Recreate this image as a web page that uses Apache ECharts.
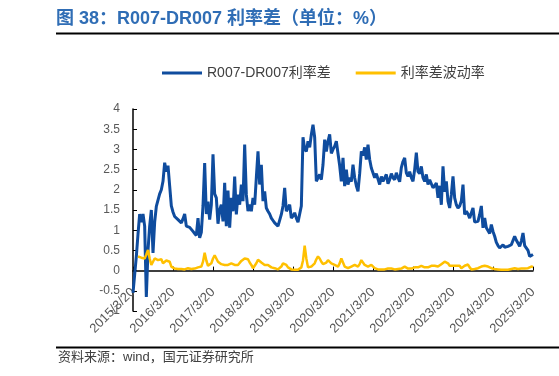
<!DOCTYPE html>
<html>
<head>
<meta charset="utf-8">
<script src="https://cdn.jsdelivr.net/npm/echarts@6/dist/echarts.min.js"></script>
<style>
  html, body { margin: 0; padding: 0; background: #fff; }
  #chart { width: 559px; height: 376px; }
</style>
</head>
<body>
<div id="chart"></div>
<script>
'use strict';

// ---- palette ----
const C = { spread: '#0f4c9e', vol: '#ffc000', axis: '#000', text: '#595959', title: '#2f6db5' };
const FONT = 'Arial, "Liberation Sans", "Noto Sans CJK SC", sans-serif';

// ---- data: half-monthly samples, 2015/3/20 .. 2025/3/20 ----
const dates = [];
for (let i = 0; i <= 240; i++) {
  const half = i % 2, mi = 2 + Math.floor(i / 2) + half;
  dates.push((2015 + Math.floor(mi / 12)) + '/' + (mi % 12 + 1) + '/' + (half ? 5 : 20));
}

// R007-DR007 spread (%)
const spread = [
  -0.55, -0.1, 0.35, 0.9, 1.4, 1.2, 1.4, 1.1, -0.65, 0.5, 1.1, 1.5,
  0.44, 1.2, 1.59, 1.63, 1.9, 2.0, 2.21, 2.67, 2.45, 2.6, 2.1, 1.6,
  1.45, 1.34, 1.3, 1.26, 1.22, 1.18, 1.28, 1.4, 1.1, 1.1, 1.07, 1.02,
  0.97, 0.92, 0.87, 1.3, 0.81, 0.95, 1.6, 2.66, 1.4, 1.71, 1.26, 1.63,
  2.88, 1.9, 1.8, 1.16, 1.5, 1.63, 1.22, 2.17, 1.1, 1.98, 1.06, 1.8,
  1.47, 2.33, 1.39, 1.88, 1.63, 2.13, 1.72, 3.12, 1.88, 1.47, 1.63, 1.47,
  1.8, 1.63, 2.3, 2.95, 2.13, 2.62, 1.72, 1.96, 1.55, 1.47, 1.4, 1.3,
  1.24, 1.18, 1.14, 1.1, 1.06, 1.39, 1.6, 2.05, 1.47, 1.55, 1.63, 1.3,
  1.35, 1.43, 1.3, 1.2, 1.18, 1.6, 3.3, 3.0, 2.95, 3.2, 3.05, 3.37,
  3.61, 3.3, 2.21, 2.17, 2.38, 2.25, 2.62, 3.24, 2.95, 3.2, 3.37, 2.9,
  3.0, 3.08, 3.2, 2.9, 2.6, 2.21, 2.79, 2.09, 2.5, 2.13, 2.3, 2.2,
  2.62, 2.3, 2.1, 1.96, 2.4, 2.95, 2.85, 3.05, 2.75, 3.12, 2.75, 2.54,
  2.58, 2.3, 2.4, 2.4, 2.13, 2.33, 2.21, 2.2, 2.38, 2.15, 2.25, 2.4,
  2.3, 2.25, 2.42, 2.3, 2.2, 2.55, 2.7, 2.79, 2.42, 2.33, 2.45, 2.3,
  2.21, 2.5, 2.92, 2.45, 2.4, 2.58, 2.3, 2.21, 2.38, 2.13, 2.25, 2.15,
  2.05, 2.1, 2.17, 1.8, 2.1, 1.63, 2.58, 1.95, 2.21, 1.72, 1.55, 1.88,
  2.33, 1.8, 1.63, 1.55, 1.6, 1.72, 2.13, 1.39, 1.47, 1.4, 1.3, 1.34,
  1.55, 1.2, 1.18, 1.22, 1.39, 1.6, 1.06, 1.3, 1.06, 1.06, 0.92, 1.14,
  0.97, 0.85, 0.7, 0.62, 0.56, 0.52, 0.64, 0.58, 0.56, 0.6, 0.58, 0.64,
  0.62, 0.85, 0.75, 0.68, 0.6, 0.73, 0.93, 0.62, 0.58, 0.5, 0.35, 0.38, 0.4
];

// spread volatility
const volatility = [
  null, null, null, 0.35, 0.38, 0.32, 0.28, 0.3, 0.4, 0.51, 0.3, 0.14,
  0.22, 0.3, 0.28, 0.26, 0.3, 0.28, 0.18, 0.14, 0.25, 0.28, 0.22, 0.1,
  0.06, 0.05, 0.04, 0.04, 0.03, 0.04, 0.05, 0.03, 0.04, 0.06, 0.05, 0.04,
  0.03, 0.05, 0.06, 0.08, 0.06, 0.1, 0.22, 0.44, 0.25, 0.12, 0.1, 0.18,
  0.3, 0.38, 0.3, 0.22, 0.18, 0.16, 0.14, 0.14, 0.12, 0.14, 0.16, 0.18,
  0.15, 0.14, 0.16, 0.14, 0.18, 0.24, 0.26, 0.3, 0.26, 0.28, 0.2, 0.14,
  0.06, 0.08, 0.18, 0.27, 0.24, 0.2, 0.16, 0.14, 0.12, 0.14, 0.1, 0.08,
  0.06, 0.06, 0.04, 0.03, 0.06, 0.1, 0.18, 0.22, 0.14, 0.08, 0.05, 0.03,
  0.03, 0.02, 0.02, 0.02, 0.03, 0.08, 0.25, 0.62, 0.3, 0.08, 0.06, 0.1,
  0.12, 0.18, 0.28, 0.35, 0.3, 0.22, 0.16, 0.14, 0.2, 0.26, 0.22, 0.18,
  0.16, 0.14, 0.12, 0.1, 0.18, 0.3, 0.2, 0.1, 0.08, 0.06, 0.08, 0.1,
  0.12, 0.14, 0.12, 0.1, 0.16, 0.26, 0.22, 0.14, 0.12, 0.1, 0.12, 0.14,
  0.1, 0.06, 0.04, 0.03, 0.03, 0.03, 0.04, 0.03, 0.03, 0.05, 0.06, 0.05,
  0.04, 0.03, 0.03, 0.04, 0.03, 0.05, 0.08, 0.1, 0.07, 0.05, 0.06, 0.05,
  0.06, 0.08, 0.1, 0.08, 0.1, 0.12, 0.1, 0.08, 0.06, 0.08, 0.1, 0.12,
  0.14, 0.12, 0.1, 0.1, 0.12, 0.16, 0.2, 0.22, 0.23, 0.18, 0.12, 0.1,
  0.12, 0.14, 0.12, 0.1, 0.12, 0.06, 0.08, 0.12, 0.14, 0.15, 0.08, 0.03,
  0.03, 0.04, 0.06, 0.06, 0.08, 0.1, 0.1, 0.12, 0.1, 0.1, 0.08, 0.06,
  0.05, 0.04, 0.03, 0.03, 0.02, 0.02, 0.02, 0.02, 0.02, 0.02, 0.03, 0.04,
  0.06, 0.06, 0.05, 0.04, 0.04, 0.05, 0.06, 0.05, 0.04, 0.06, 0.08, 0.1, 0.09
];

const seriesNames = ['R007-DR007利率差', '利率差波动率'];
const titleText = '图 38：R007-DR007 利率差（单位：%）';
const sourceText = '资料来源：wind，国元证券研究所';

const chart = echarts.init(document.getElementById('chart'), null, { renderer: 'canvas' });
chart.setOption({
  animation: false,
  textStyle: { fontFamily: FONT },
  graphic: [
    { type: 'text', left: 56, top: 10, style: { text: titleText, fill: C.title, font: 'bold 18px ' + FONT } },
    { type: 'line', shape: { x1: 56, y1: 33.5, x2: 559, y2: 33.5 }, style: { stroke: '#000', lineWidth: 2 } },
    { type: 'line', shape: { x1: 56, y1: 347.5, x2: 559, y2: 347.5 }, style: { stroke: '#000', lineWidth: 2 } },
    { type: 'text', left: 58, top: 351, style: { text: sourceText, fill: '#404040', font: '13px ' + FONT } },
  ],
  legend: {
    data: seriesNames, left: 157, top: 61, icon: 'rect', itemWidth: 40, itemHeight: 3, itemGap: 25,
    textStyle: { color: '#404040', fontSize: 14 },
  },
  grid: { left: 133, right: 26, top: 109, bottom: 65, containLabel: false },
  xAxis: {
    type: 'category', data: dates, boundaryGap: false,
    axisLine: { onZero: true, lineStyle: { color: C.axis, width: 1.5 } },
    axisTick: { inside: true, length: 4, interval: 23, lineStyle: { color: C.axis } },
    axisLabel: { interval: 23, rotate: 45, margin: -21, color: C.text, fontSize: 13 },
    splitLine: { show: false },
  },
  yAxis: {
    type: 'value', min: -1, max: 4, interval: 0.5,
    axisLine: { show: true, lineStyle: { color: C.axis, width: 1.5 } },
    axisTick: { show: true, inside: true, length: 4, lineStyle: { color: C.axis } },
    axisLabel: { color: C.text, fontSize: 12, margin: 13 },
    splitLine: { show: false },
  },
  series: [
    { name: seriesNames[0], type: 'line', data: spread, symbol: 'none', lineStyle: { color: C.spread, width: 3 }, itemStyle: { color: C.spread } },
    { name: seriesNames[1], type: 'line', data: volatility, symbol: 'none', lineStyle: { color: C.vol, width: 2.5 }, itemStyle: { color: C.vol } },
  ],
});
</script>
</body>
</html>
